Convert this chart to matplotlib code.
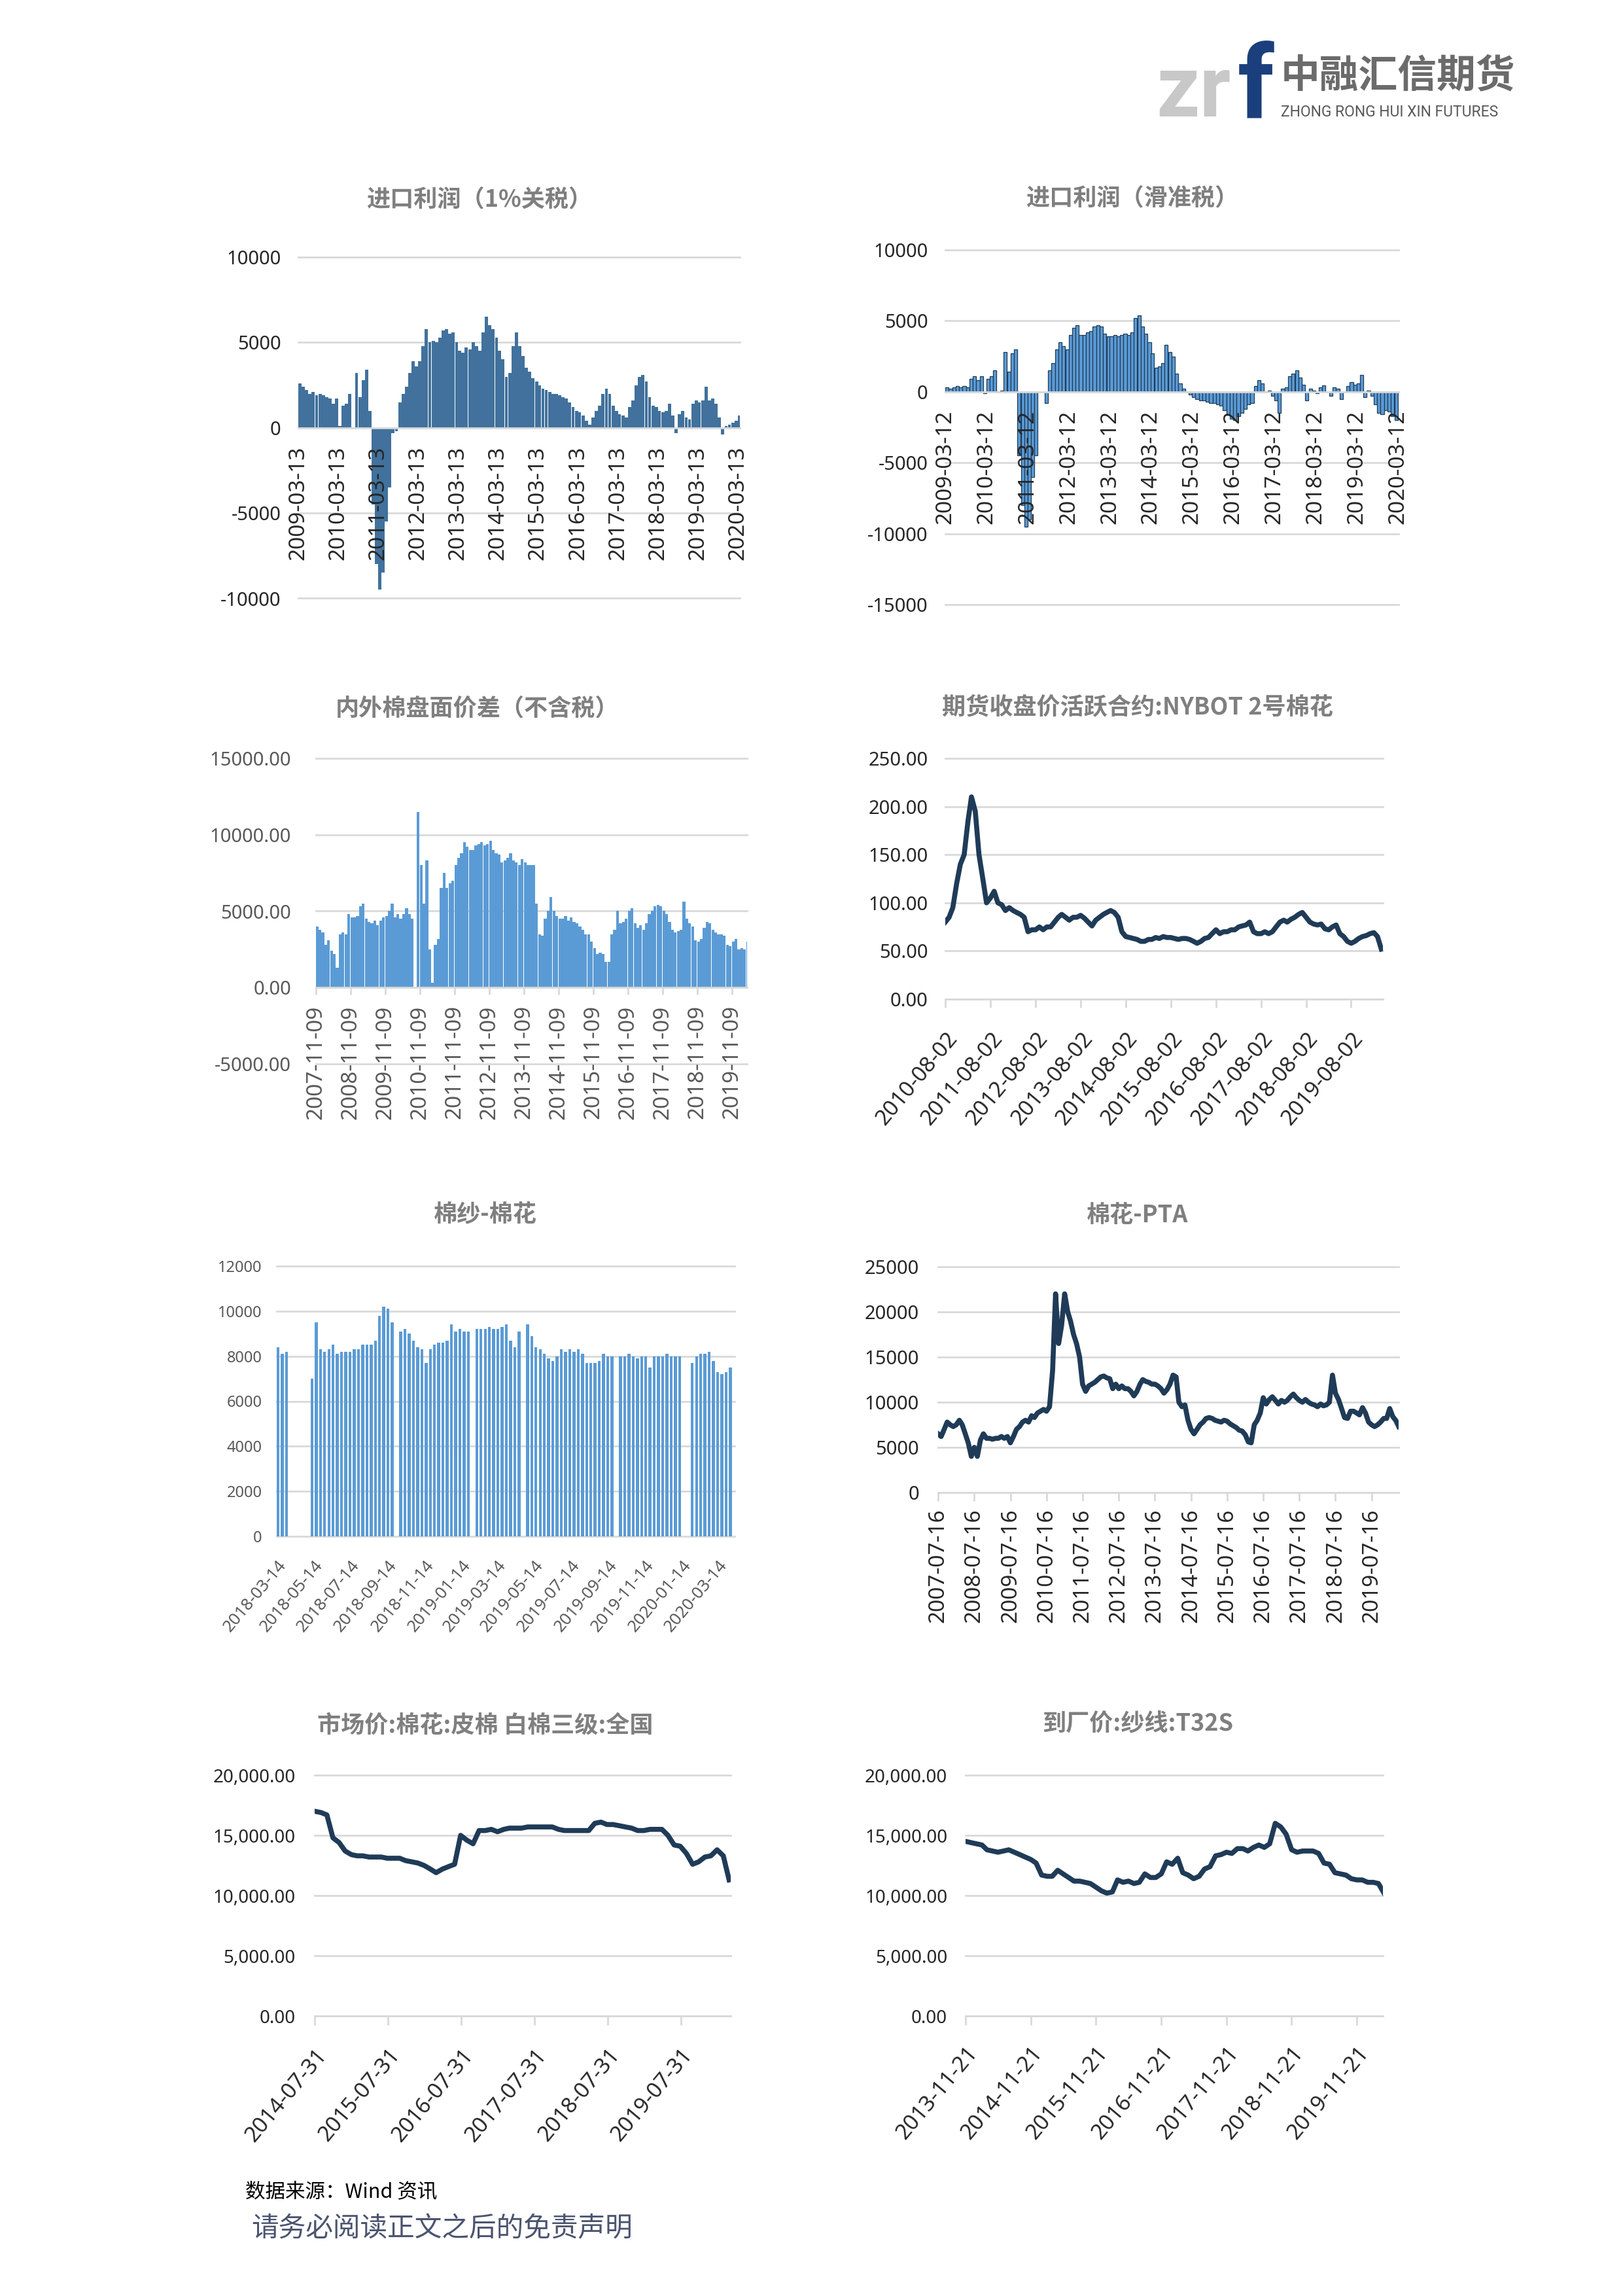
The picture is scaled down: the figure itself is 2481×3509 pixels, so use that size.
import numpy as np
import pandas as pd
import matplotlib
matplotlib.use("Agg")
import matplotlib.pyplot as plt
import matplotlib.dates as mdates

nan = np.nan

# ==========================================
# Data
# ==========================================

# 进口利润（1%关税）, monthly from 2009-03-13
profit_1pct = [
    2600, 2400, 2200, 2000, 2100, 1900, 2000, 1900, 1800, 1700,
    1400, 1700, 100, 1300, 1400, 2000, 0, 3200, 1800, 2800,
    3400, 1000, -4500, -8000, -9500, -8500, -5500, -3500, -300, -200,
    1500, 2000, 2400, 3200, 3900, 3600, 3900, 4800, 5800, 5000,
    5100, 5000, 5300, 5700, 5800, 5500, 5600, 5000, 4500, 4400,
    4700, 4600, 5000, 4800, 4500, 5600, 6500, 6000, 5800, 5300,
    4500, 4000, 3000, 3200, 4800, 5600, 4800, 4200, 3500, 3300,
    2900, 2700, 2500, 2300, 2200, 2100, 2000, 2000, 1900, 1800,
    1700, 1500, 1200, 1000, 900, 700, 400, 200, 600, 1000,
    1300, 2000, 2300, 2000, 1300, 1000, 800, 700, 600, 1200,
    1600, 2500, 3000, 3100, 2700, 1800, 1300, 1200, 1000, 900,
    1000, 1400, 700, -300, 800, 1000, 600, 500, 1400, 1600,
    1500, 1600, 2400, 1600, 1700, 1400, 600, -400, 100, 200,
    300, 400, 700,
]
profit_1pct_ticks = [f"{y}-03-13" for y in range(2009, 2021)]

# 进口利润（滑准税）, monthly from 2009-03-12
profit_sliding = [
    300, 200, 300, 400, 300, 400, 300, 900, 1100, 800,
    1100, -100, 900, 1100, 1500, 0, 100, 2800, 1400, 2700,
    3000, -4500, -8000, -9500, -9000, -6000, -4500, 0, 0, -800,
    1500, 2000, 3000, 3500, 3200, 3000, 4000, 4500, 4700, 4000,
    4000, 4200, 4300, 4600, 4700, 4600, 4100, 3900, 3900, 4000,
    3900, 4000, 4100, 4000, 4200, 5200, 5400, 4600, 4100, 3500,
    2700, 1700, 1800, 2000, 3300, 2800, 2500, 1300, 600, 200,
    0, -200, -400, -500, -600, -600, -700, -800, -800, -900,
    -1000, -1300, -1600, -1900, -2000, -1700, -1500, -1200, -900, -800,
    400, 800, 600, 0, 100, -300, -600, -1500, 200, 300,
    1100, 1300, 1500, 1000, 500, -600, 200, 100, -100, 300,
    450, 0, -300, 300, 200, -500, 0, 400, 700, 500,
    600, 1200, -400, 100, -300, -900, -1500, -1600, -1300, -1400,
    -1700, -2000, -1800,
]
profit_sliding_ticks = [f"{y}-03-12" for y in range(2009, 2021)]

# 内外棉盘面价差（不含税）, monthly from 2007-11-09
spread = [
    4000, 3800, 3600, 2800, 3100, 2400, 2200, 1300, 3500, 3600,
    3500, 4800, 4600, 4600, 4700, 5300, 5500, 4500, 4300, 4200,
    4400, 4100, 4400, 4600, 4700, 5000, 5500, 4600, 4800, 4500,
    4800, 5200, 4800, 4500, 0, 11500, 8000, 5500, 8300, 2500,
    300, 2800, 3200, 6500, 7500, 6500, 6800, 7000, 8000, 8500,
    8800, 9500, 9200, 9000, 9000, 9300, 9400, 9500, 9300, 9400,
    9600, 9000, 8800, 8700, 8200, 8300, 8500, 8800, 8300, 8200,
    8000, 8400, 8200, 8000, 8000, 8000, 5500, 3500, 3400, 4500,
    5000, 5900, 5000, 4700, 4500, 4500, 4700, 4400, 4600, 4300,
    4200, 4000, 3800, 3500, 3500, 3000, 2600, 2200, 2300, 2200,
    1700, 1700, 3500, 3800, 5000, 4200, 4300, 4500, 5000, 5200,
    4200, 3900, 4100, 3800, 4200, 4800, 5000, 5300, 5400, 5300,
    5000, 4800, 4300, 3800, 3600, 3700, 3800, 5600, 4500, 4200,
    4000, 3100, 3000, 3200, 3900, 4300, 4200, 3800, 3600, 3500,
    3500, 3400, 2800, 2700, 3000, 3200, 2500, 2600, 2500, 3000,
]
spread_ticks = [f"{y}-11-09" for y in range(2007, 2020)]

# 期货收盘价活跃合约:NYBOT 2号棉花, monthly from 2010-08-02
nybot = [
    80, 85, 95, 120, 140, 150, 185, 210, 195, 150,
    125, 100, 105, 112, 100, 98, 92, 95, 92, 90,
    88, 85, 70, 72, 72, 75, 72, 75, 75, 80,
    85, 88, 85, 82, 85, 85, 87, 84, 80, 76,
    82, 85, 88, 90, 92, 90, 85, 70, 65, 64,
    63, 62, 60, 60, 62, 62, 64, 63, 65, 64,
    64, 63, 62, 63, 63, 62, 60, 58, 60, 63,
    64, 68, 72, 68, 70, 70, 72, 72, 75, 76,
    77, 80, 70, 68, 68, 70, 68, 70, 75, 80,
    82, 80, 83, 85, 88, 90, 85, 80, 78, 77,
    78, 73, 72, 75, 77, 68, 65, 60, 58, 60,
    63, 65, 66, 68, 69, 65, 52,
]
nybot_ticks = [f"{y}-08-02" for y in range(2010, 2020)]

# 棉纱-棉花, weekly from 2018-03-14 (nan = no quotes)
yarn_cotton = [
    8400, 8100, 8200, nan, nan, nan, nan, nan, 7000, 9500,
    8300, 8200, 8300, 8500, 8100, 8200, 8200, 8200, 8300, 8300,
    8500, 8500, 8500, 8700, 9800, 10200, 10100, 9500, nan, 9100,
    9200, 9000, 8700, 8400, 8300, 7700, 8300, 8500, 8600, 8600,
    8700, 9400, 9100, 9200, 9100, 9100, nan, 9200, 9200, 9200,
    9300, 9200, 9200, 9300, 9400, 8700, 8400, 9100, nan, 9400,
    8900, 8400, 8300, 8100, 7900, 7800, 8000, 8300, 8200, 8300,
    8200, 8300, 8100, 7700, 7700, 7700, 7800, 8100, 8000, 8000,
    nan, 8000, 8000, 8100, 8000, 7900, 8000, 8000, 7500, 8000,
    8000, 8000, 8100, 8000, 8000, 8000, nan, nan, 7700, 8000,
    8100, 8100, 8200, 7800, 7300, 7200, 7300, 7500,
]
yarn_cotton_ticks = [
    "2018-03-14", "2018-05-14", "2018-07-14", "2018-09-14", "2018-11-14",
    "2019-01-14", "2019-03-14", "2019-05-14", "2019-07-14", "2019-09-14",
    "2019-11-14", "2020-01-14", "2020-03-14",
]

# 棉花-PTA, monthly from 2007-07-16
cotton_pta = [
    6500, 6200, 7000, 7800, 7500, 7300, 7500, 8000, 7500, 6500,
    5500, 4000, 5000, 4000, 5800, 6500, 6000, 6000, 5900, 6000,
    6000, 6200, 6000, 6200, 5500, 6200, 7000, 7300, 7800, 8000,
    7800, 8500, 8300, 8800, 9000, 9200, 9000, 9500, 13500, 22000,
    16500, 18500, 22000, 20000, 19000, 17500, 16500, 15000, 12000, 11200,
    11800, 12000, 12200, 12500, 12800, 12900, 12700, 12600, 11500, 12000,
    11500, 11800, 11500, 11500, 11200, 10700, 11200, 12000, 12500, 12300,
    12200, 12000, 12000, 11800, 11500, 11000, 11400, 12000, 13000, 12800,
    10000, 9500, 9700, 8000, 7000, 6500, 7000, 7500, 7800, 8200,
    8300, 8200, 8000, 7900, 7800, 8000, 7900, 7600, 7400, 7200,
    6900, 6800, 6400, 5600, 5500, 7500, 8000, 8800, 10500, 9800,
    10300, 10600, 10200, 9800, 10200, 10000, 10200, 10600, 10900, 10500,
    10200, 10000, 10300, 10000, 9800, 9700, 9500, 9800, 9600, 9700,
    10000, 13000, 11000, 10300, 9300, 8300, 8200, 9000, 9000, 8800,
    8600, 9400, 8800, 7800, 7500, 7300, 7500, 7800, 8200, 8200,
    9300, 8400, 8000, 7300,
]
cotton_pta_ticks = [f"{y}-07-16" for y in range(2007, 2020)]

# 市场价:棉花:皮棉 白棉三级:全国, monthly from 2014-07-31
lint_price = [
    17000, 16900, 16700, 14800, 14400, 13700, 13400, 13300, 13300, 13200,
    13200, 13200, 13100, 13100, 13100, 12900, 12800, 12700, 12500, 12200,
    11900, 12200, 12400, 12600, 15000, 14600, 14300, 15400, 15400, 15500,
    15300, 15500, 15600, 15600, 15600, 15700, 15700, 15700, 15700, 15700,
    15500, 15400, 15400, 15400, 15400, 15400, 16000, 16100, 15900, 15900,
    15800, 15700, 15600, 15400, 15400, 15500, 15500, 15500, 15000, 14200,
    14100, 13500, 12600, 12800, 13200, 13300, 13800, 13300, 11300,
]
lint_price_ticks = [f"{y}-07-31" for y in range(2014, 2020)]

# 到厂价:纱线:T32S, monthly from 2013-11-21
yarn_t32s = [
    14500, 14400, 14300, 14200, 13800, 13700, 13600, 13700, 13800, 13600,
    13400, 13200, 13000, 12700, 11700, 11600, 11600, 12100, 11800, 11500,
    11200, 11200, 11100, 11000, 10700, 10400, 10200, 10300, 11300, 11100,
    11200, 11000, 11100, 11800, 11500, 11500, 11800, 12800, 12600, 13100,
    11900, 11700, 11400, 11600, 12200, 12400, 13300, 13400, 13600, 13500,
    13900, 13900, 13700, 14000, 14200, 14000, 14300, 16000, 15700, 15100,
    13800, 13600, 13700, 13700, 13700, 13500, 12700, 12600, 11900, 11800,
    11700, 11400, 11300, 11300, 11100, 11100, 11000, 10200,
]
yarn_t32s_ticks = [f"{y}-11-21" for y in range(2013, 2020)]

# ==========================================
# Page setup
# ==========================================

W, H = 2481, 3509
plt.rcParams["font.family"] = ["Noto Sans", "Noto Sans CJK SC", "DejaVu Sans"]
CJK = ["Noto Sans CJK SC", "DejaVu Sans"]

GRID = "#d9d9d9"
NAVY = "#1f3b57"
LIGHT = "#5b9bd5"
DARKTXT = "#262626"
GRAYTXT = "#595959"

fig = plt.figure(figsize=(W / 100, H / 100), dpi=100)
fig.patch.set_facecolor("white")


def box(x0, y0, x1, y1):
    # pixel box on the page -> axes
    return fig.add_axes([x0 / W, 1 - y1 / H, (x1 - x0) / W, (y1 - y0) / H])


def dnum(s):
    return mdates.date2num(pd.Timestamp(s))


def monthly(start, n):
    return mdates.date2num(pd.date_range(start, periods=n, freq=pd.DateOffset(months=1)))


def base(ax, yticks, fmt, xlim, ysize=21, ycolor=DARKTXT, ypad=19):
    ax.set_xlim(dnum(xlim[0]), dnum(xlim[1]))
    ax.set_ylim(yticks[0], yticks[-1])
    for v in yticks:
        ax.axhline(v, color=GRID, lw=2, zorder=0, clip_on=False)
    ax.set_yticks(yticks)
    ax.set_yticklabels([fmt(v) for v in yticks])
    ax.tick_params(axis="y", length=0, pad=ypad, labelsize=ysize, labelcolor=ycolor)
    for s in ax.spines.values():
        s.set_visible(False)
    ax.patch.set_alpha(0)
    ax.set_axisbelow(False)


def xlabels(ax, labels, rotation, size, color, pad, ticklen=0, zero=None):
    # move the axis line first: set_position resets the ticks
    if zero is not None:
        sp = ax.spines["bottom"]
        sp.set_position(("data", zero))
        sp.set_visible(True)
        sp.set_color(GRID)
        sp.set_linewidth(2)
    ax.set_xticks([dnum(t) for t in labels])
    if rotation == 90:
        ax.set_xticklabels(labels, rotation=90, ha="center", va="top")
    else:
        ax.set_xticklabels(labels, rotation=rotation, ha="right", va="top",
                           rotation_mode="anchor")
    ax.tick_params(axis="x", length=ticklen, width=2, color=GRID, pad=pad,
                   labelsize=size, labelcolor=color)


def title(x, y, s):
    fig.text(x / W, 1 - y / H, s, ha="center", va="center", fontsize=26,
             fontweight="bold", color="#7f7f7f", family=CJK)


fmt_int = lambda v: f"{v:d}"
fmt_2 = lambda v: f"{v:.2f}"
fmt_comma = lambda v: f"{v:,.2f}"

# ==========================================
# Logo
# ==========================================

fig.text(1767 / W, 1 - 178 / H, "zr", fontsize=94, fontweight="bold",
         family="Roboto", color="#c8c8c8", va="baseline")
fig.text(1892 / W, 1 - 180 / H, "f", fontsize=112, fontweight="bold",
         family="Roboto", color="#1b3f7c", va="baseline")
fig.text(1958 / W, 1 - 116 / H, "中融汇信期货", fontsize=43, fontweight="bold",
         family=CJK, color="#6b6b6b", va="center")
fig.text(1958 / W, 1 - 178 / H, "ZHONG RONG HUI XIN FUTURES", fontsize=16.5,
         family="Roboto", color="#595959", va="baseline")

# ==========================================
# 1. 进口利润（1%关税）
# ==========================================

ax = box(456, 393, 1131, 914.5)
base(ax, [-10000, -5000, 0, 5000, 10000], fmt_int, ("2009-03-13", "2020-04-01"))
ax.bar(monthly("2009-03-13", len(profit_1pct)), profit_1pct, width=29,
       align="edge", color="#41719c", lw=0, zorder=2)
xlabels(ax, profit_1pct_ticks, 90, 24, DARKTXT, 20, zero=0)
title(733, 305, "进口利润（1%关税）")

# ==========================================
# 2. 进口利润（滑准税）
# ==========================================

ax = box(1445, 382, 2138, 924)
base(ax, [-15000, -10000, -5000, 0, 5000, 10000], fmt_int, ("2009-03-12", "2020-03-20"))
ax.bar(monthly("2009-03-12", len(profit_sliding)), profit_sliding, width=30,
       align="edge", color=LIGHT, edgecolor=NAVY, lw=0.9, zorder=2)
xlabels(ax, profit_sliding_ticks, 90, 24, DARKTXT, 20, zero=0)
title(1731, 303, "进口利润（滑准税）")

# ==========================================
# 3. 内外棉盘面价差（不含税）
# ==========================================

ax = box(482.5, 1159, 1141.5, 1626)
base(ax, [-5000, 0, 5000, 10000, 15000], fmt_2, ("2007-11-09", "2020-04-15"),
     ycolor=GRAYTXT, ypad=27)
ax.bar(monthly("2007-11-09", len(spread)), spread, width=29,
       align="edge", color=LIGHT, lw=0, zorder=2)
xlabels(ax, spread_ticks, 90, 24, GRAYTXT, 11.5, ticklen=8, zero=0)
title(730, 1083, "内外棉盘面价差（不含税）")

# ==========================================
# 4. NYBOT 2号棉花
# ==========================================

ax = box(1445, 1159, 2114, 1527)
base(ax, [0, 50, 100, 150, 200, 250], fmt_2, ("2010-08-02", "2020-04-15"))
ax.plot(monthly("2010-08-02", len(nybot)), nybot, color=NAVY, lw=5.5,
        solid_joinstyle="round", zorder=2)
xlabels(ax, nybot_ticks, 50, 24, DARKTXT, 23, ticklen=9, zero=0)
title(1739, 1081, "期货收盘价活跃合约:NYBOT 2号棉花")

# ==========================================
# 5. 棉纱-棉花
# ==========================================

ax = box(423, 1935, 1122.5, 2348)
base(ax, [0, 2000, 4000, 6000, 8000, 10000, 12000], fmt_int,
     ("2018-03-14", "2020-04-10"), ysize=17, ycolor=GRAYTXT, ypad=16)
weeks = mdates.date2num(pd.date_range("2018-03-14", periods=len(yarn_cotton), freq="7D"))
ax.bar(weeks, yarn_cotton, width=4.8, align="edge", color=LIGHT, lw=0, zorder=2)
xlabels(ax, yarn_cotton_ticks, 50, 18.5, GRAYTXT, 23)
title(742, 1857, "棉纱-棉花")

# ==========================================
# 6. 棉花-PTA
# ==========================================

ax = box(1434, 1936, 2138, 2281)
base(ax, [0, 5000, 10000, 15000, 20000, 25000], fmt_int, ("2007-07-16", "2020-04-15"),
     ypad=21)
ax.plot(monthly("2007-07-16", len(cotton_pta)), cotton_pta, color=NAVY, lw=5.5,
        solid_joinstyle="round", zorder=2)
xlabels(ax, cotton_pta_ticks, 90, 24, DARKTXT, 8.6, ticklen=9, zero=0)
title(1739, 1857, "棉花-PTA")

# ==========================================
# 7. 皮棉 白棉三级
# ==========================================

ax = box(481, 2713, 1117, 3081)
base(ax, [0, 5000, 10000, 15000, 20000], fmt_comma, ("2014-07-31", "2020-04-05"),
     ysize=20, ypad=21)
ax.plot(monthly("2014-07-31", len(lint_price)), lint_price, color=NAVY, lw=5.5,
        solid_joinstyle="round", zorder=2)
xlabels(ax, lint_price_ticks, 50, 24, DARKTXT, 21.6, ticklen=10, zero=0)
title(742, 2637, "市场价:棉花:皮棉 白棉三级:全国")

# ==========================================
# 8. 到厂价 T32S
# ==========================================

ax = box(1476, 2713, 2114, 3081)
base(ax, [0, 5000, 10000, 15000, 20000], fmt_comma, ("2013-11-21", "2020-04-15"),
     ysize=20, ypad=20)
ax.plot(monthly("2013-11-21", len(yarn_t32s)), yarn_t32s, color=NAVY, lw=5.5,
        solid_joinstyle="round", zorder=2)
xlabels(ax, yarn_t32s_ticks, 50, 24, DARKTXT, 19, ticklen=10, zero=0)
title(1739, 2634, "到厂价:纱线:T32S")

# ==========================================
# Footer
# ==========================================

fig.text(375 / W, 1 - 3350 / H, "数据来源：Wind 资讯", fontsize=22,
         family=CJK, color="#000000", va="center")
fig.text(384 / W, 1 - 3407 / H, "请务必阅读正文之后的免责声明", fontsize=30,
         family=CJK, color="#4b5470", va="center")

fig.savefig("out.png", dpi=100, facecolor="white")
print("Saved out.png")
